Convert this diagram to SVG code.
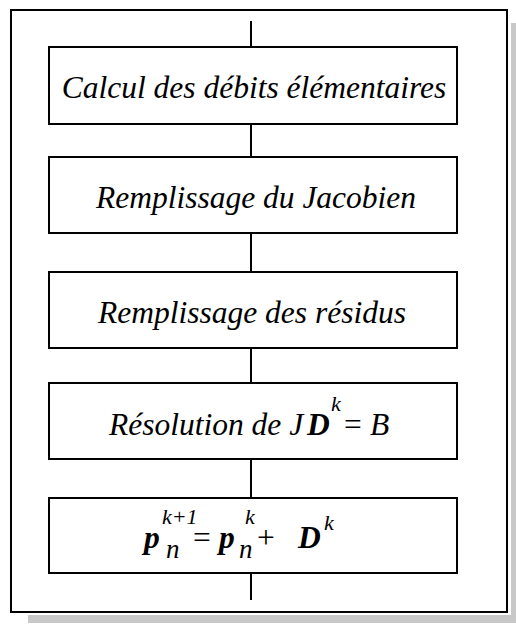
<svg xmlns="http://www.w3.org/2000/svg" width="516" height="625" viewBox="0 0 516 625">
<style>
.box{fill:#fff;stroke:#000;stroke-width:2}
text{font-family:'Liberation Serif','DejaVu Serif',serif;font-style:italic;font-size:31.5px;fill:#000}
.b{font-weight:bold}
.s{font-size:22px}
.n{font-size:27px}
.c{stroke:#000;stroke-width:2;fill:none}
</style>
<rect x="0" y="0" width="516" height="625" fill="#fff"/>
<g id="shadow" fill="#c8c8c8">
<rect x="511" y="23" width="5" height="600"/>
<rect x="28" y="615" width="488" height="8"/>
</g>
<rect id="frame" x="11" y="10" width="496" height="602" fill="#fff" stroke="#000" stroke-width="2"/>
<g id="connectors">
<line class="c" x1="251" y1="21" x2="251" y2="47"/>
<line class="c" x1="251" y1="124" x2="251" y2="157"/>
<line class="c" x1="251" y1="233" x2="251" y2="272"/>
<line class="c" x1="251" y1="348" x2="251" y2="383"/>
<line class="c" x1="251" y1="459" x2="251" y2="498"/>
<line class="c" x1="251" y1="573" x2="251" y2="600"/>
</g>
<g id="n1">
<rect class="box" x="49" y="47" width="408" height="77"/>
<text x="254" y="98" text-anchor="middle">Calcul des débits élémentaires</text>
</g>
<g id="n2">
<rect class="box" x="49" y="157" width="408" height="76"/>
<text x="256" y="208" text-anchor="middle">Remplissage du Jacobien</text>
</g>
<g id="n3">
<rect class="box" x="49" y="272" width="408" height="76"/>
<text x="252" y="323" text-anchor="middle">Remplissage des résidus</text>
</g>
<g id="n4">
<rect class="box" x="49" y="383" width="408" height="76"/>
<text x="109" y="435">Résolution de J<tspan class="b" x="307">D</tspan><tspan class="s" x="331" y="411">k</tspan><tspan x="342" y="435">=</tspan><tspan x="370">B</tspan></text>
</g>
<g id="n5">
<rect class="box" x="49" y="498" width="408" height="75"/>
<text x="144" y="548"><tspan class="b">p</tspan><tspan class="n" x="166" y="558">n</tspan><tspan class="s" x="162" y="524">k+1</tspan><tspan x="191" y="548">=</tspan><tspan class="b" x="219">p</tspan><tspan class="n" x="239" y="558">n</tspan><tspan class="s" x="245" y="524">k</tspan><tspan x="255" y="548">+</tspan><tspan class="b" x="298">D</tspan><tspan class="s" x="324" y="530">k</tspan></text>
</g>
</svg>
